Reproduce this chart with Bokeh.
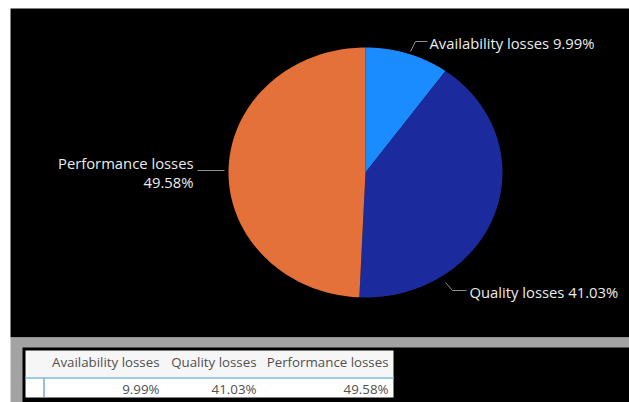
import numpy as np
from bokeh.plotting import figure
from bokeh.models import Range1d
from bokeh.core.properties import value
from bokeh.embed import file_html
from bokeh.resources import INLINE

# ---- data ----
categories = ["Availability losses", "Quality losses", "Performance losses"]
values = [9.99, 41.03, 49.58]
colors = ["#1a8cff", "#1b2b9d", "#e4703a"]

FONT = "Open Sans"
W, H = 629, 402
p = figure(width=W, height=H, x_range=Range1d(0, W), y_range=Range1d(H, 0),
           output_backend="svg", toolbar_location=None, min_border=0,
           x_axis_location=None, y_axis_location=None)
p.grid.visible = False
p.outline_line_color = None
p.background_fill_color = "white"
p.border_fill_color = "white"

# panels
p.quad(left=10, right=630, top=8, bottom=337, fill_color="black", line_color=None)
p.quad(left=10, right=630, top=337, bottom=403, fill_color="#a3a3a3", line_color=None)
p.quad(left=22, right=630, top=347, bottom=403, fill_color="black", line_color=None)

# pie (ellipse) built from the values
cx, cy, rx, ry = 365, 172, 137, 125
total = sum(values)
fr = np.array(values) / total
ends = np.cumsum(fr) * 2 * np.pi
starts = ends - fr * 2 * np.pi
xs, ys = [], []
for a0, a1 in zip(starts, ends):
    t = np.linspace(a0, a1, 120)
    xs.append([cx] + list(cx + rx * np.sin(t)))
    ys.append([cy] + list(cy - ry * np.cos(t)))
p.patches(xs, ys, fill_color=colors, line_color=None)

# leader lines and labels
lead_col = "#8f8f8f"
txt_col = "#ececec"
p.line([410, 415, 427], [51, 41, 41], line_color=lead_col, line_width=1)
p.line([445, 452, 466], [282, 290, 290], line_color=lead_col, line_width=1)
p.line([197, 224], [170, 170], line_color=lead_col, line_width=1)

LBL = "14.8px"
p.text(x=[429], y=[42], text=[f"{categories[0]} {values[0]:.2f}%"], text_font=value(FONT),
       text_font_size=LBL, text_color=txt_col, text_align="left", text_baseline="middle")
p.text(x=[469], y=[291], text=[f"{categories[1]} {values[1]:.2f}%"], text_font=value(FONT),
       text_font_size=LBL, text_color=txt_col, text_align="left", text_baseline="middle")
p.text(x=[193, 193], y=[162, 181], text=[categories[2], f"{values[2]:.2f}%"], text_font=value(FONT),
       text_font_size=LBL, text_color=txt_col, text_align="right", text_baseline="middle")

# table
p.quad(left=25, right=393, top=350, bottom=377, fill_color="#f6f6f6", line_color=None)
p.quad(left=25, right=393, top=377, bottom=397, fill_color="white", line_color=None)
p.line([25, 393], [377.5, 377.5], line_color="#9fcbe6", line_width=2)
p.line([43.5, 43.5], [378, 397], line_color="#4a94d4", line_width=1.2)
col_right = [159, 256, 388]
p.text(x=col_right, y=[361] * 3, text=categories, text_font=value(FONT),
       text_font_size="13.3px", text_color="#505050", text_align="right", text_baseline="middle")
p.text(x=col_right, y=[388] * 3, text=[f"{v:.2f}%" for v in values], text_font=value(FONT),
       text_font_size="13.3px", text_color="#505050", text_align="right", text_baseline="middle")

open("out.html", "w").write(file_html(p, INLINE))
